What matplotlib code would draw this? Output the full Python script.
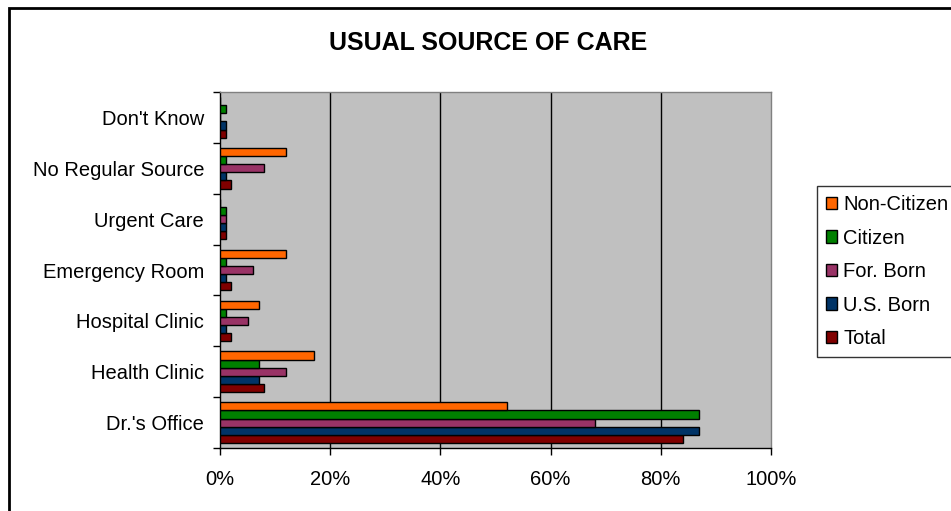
import matplotlib
matplotlib.use("Agg")
import matplotlib.pyplot as plt
from matplotlib.patches import Rectangle
import numpy as np

plt.rcParams['font.family'] = ['Liberation Sans', 'DejaVu Sans']

categories = ["Dr.'s Office", "Health Clinic", "Hospital Clinic", "Emergency Room",
              "Urgent Care", "No Regular Source", "Don't Know"]

# Share of people (%) by usual source of care, listed bottom to top
total       = [84, 8, 2, 2, 1, 2, 1]
us_born     = [87, 7, 1, 1, 1, 1, 1]
for_born    = [68, 12, 5, 6, 1, 8, 0]
citizen     = [87, 7, 1, 1, 1, 1, 1]
non_citizen = [52, 17, 7, 12, 0, 12, 0]

series_names = ["Total", "U.S. Born", "For. Born", "Citizen", "Non-Citizen"]
series_values = [total, us_born, for_born, citizen, non_citizen]
series_colors = ["#800000", "#003366", "#993366", "#008000", "#FF6600"]

x_ticks = [0, 20, 40, 60, 80, 100]
x_tick_labels = ["0%", "20%", "40%", "60%", "80%", "100%"]

W, H = 951, 511
fig = plt.figure(figsize=(W / 100, H / 100), dpi=100)
fig.patch.set_facecolor("white")

# chart-area frame
fig.patches.append(Rectangle((9 / W, -0.05), 1.2, 1 - 8 / H + 0.05,
                             transform=fig.transFigure, fill=False,
                             edgecolor="black", linewidth=2, zorder=0))

ax = fig.add_axes([220 / W, 1 - 448 / H, 551 / W, 356 / H])
ax.set_facecolor("#C0C0C0")

y = np.arange(len(categories))
h = 0.16
bars = []
for i, (name, vals, col) in enumerate(zip(series_names, series_values, series_colors)):
    b = ax.barh(y + (i - 2) * h, vals, height=h, color=col, edgecolor="black",
                linewidth=1, label=name, zorder=3)
    bars.append(b)

ax.set_xlim(0, 100)
ax.set_ylim(-0.5, len(categories) - 0.5)

ax.set_xticks(x_ticks)
ax.set_xticklabels(x_tick_labels, fontsize=14.5)
ax.tick_params(axis="x", direction="out", length=5, width=1, color="black", pad=11)

ax.set_yticks(y)
ax.set_yticklabels(categories, fontsize=14.5)
ax.set_yticks(np.arange(-0.5, len(categories)), minor=True)
ax.tick_params(axis="y", which="major", length=0, pad=11.5)
ax.tick_params(axis="y", which="minor", direction="out", length=5, width=1, color="black")

for xv in x_ticks[1:-1]:
    ax.axvline(xv, color="black", linewidth=1, zorder=1)

ax.spines["left"].set_color("black")
ax.spines["bottom"].set_color("black")
ax.spines["top"].set_color("#808080")
ax.spines["right"].set_color("#808080")
for s in ax.spines.values():
    s.set_linewidth(1)

fig.text(488 / W, 1 - 43 / H, "USUAL SOURCE OF CARE", ha="center", va="center",
         fontsize=18, fontweight="bold")

handles = bars[::-1]
labels = series_names[::-1]
leg = fig.legend(handles, labels, loc="upper left",
                 bbox_to_anchor=(817 / W, 1 - 186 / H), bbox_transform=fig.transFigure,
                 fontsize=14.5, frameon=True, fancybox=False, shadow=False,
                 handlelength=0.55, handleheight=0.55, handletextpad=0.3,
                 labelspacing=0.72, borderpad=0.45, borderaxespad=0)
leg.get_frame().set_edgecolor("black")
leg.get_frame().set_linewidth(1)

fig.savefig("out.png", dpi=100)
